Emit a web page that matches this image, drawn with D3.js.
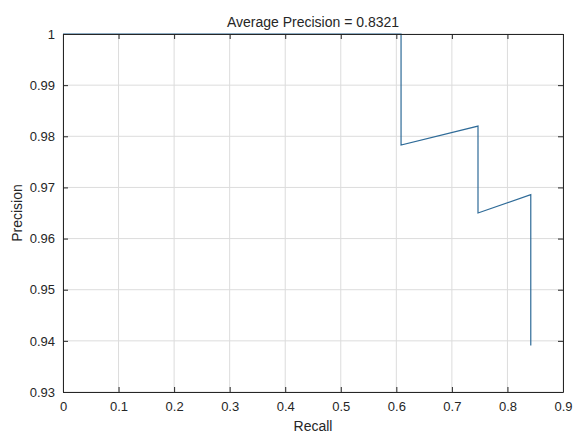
<html>
<head>
<meta charset="utf-8">
<title>Average Precision</title>
<script src="https://d3js.org/d3.v7.min.js"></script>
<style>
body { margin:0; background:#fff; }
text { font-family: "Liberation Sans", Arial, sans-serif; fill:#262626; }
</style>
</head>
<body>
<div id="chart"></div>
<script>
// values
var recall    = [0, 0.6085, 0.6085, 0.747, 0.747, 0.842, 0.842];
var precision = [1, 1, 0.9783, 0.982, 0.965, 0.9686, 0.9391];
var xTicks = [0, 0.1, 0.2, 0.3, 0.4, 0.5, 0.6, 0.7, 0.8, 0.9];
var yTicks = [0.93, 0.94, 0.95, 0.96, 0.97, 0.98, 0.99, 1];
var title = "Average Precision = 0.8321";

var width = 576, height = 434;
var m = {left:63, right:13, top:34, bottom:42};
var iw = width - m.left - m.right, ih = height - m.top - m.bottom;

var svg = d3.select("#chart").append("svg")
  .attr("width", width).attr("height", height);

var x = d3.scaleLinear().domain([0, 0.9]).range([m.left, m.left + iw]);
var y = d3.scaleLinear().domain([0.93, 1]).range([m.top + ih, m.top]);

// grid
svg.append("g").selectAll("line").data(xTicks).enter().append("line")
  .attr("x1", d => x(d)).attr("x2", d => x(d))
  .attr("y1", m.top).attr("y2", m.top + ih)
  .attr("stroke", "#dcdcdc").attr("stroke-width", 1);
svg.append("g").selectAll("line").data(yTicks).enter().append("line")
  .attr("y1", d => y(d)).attr("y2", d => y(d))
  .attr("x1", m.left).attr("x2", m.left + iw)
  .attr("stroke", "#dcdcdc").attr("stroke-width", 1);

// the curve
var pts = recall.map((r, i) => [r, precision[i]]);
svg.append("path").datum(pts)
  .attr("d", d3.line().x(d => x(d[0])).y(d => y(d[1])))
  .attr("fill", "none").attr("stroke", "#2f6b98").attr("stroke-width", 1.2);

// axes, MATLAB style: inward ticks on all four sides
function fmt(d) { return d3.format("~g")(+d.toFixed(2)); }
var axBottom = svg.append("g").attr("transform", "translate(0," + (m.top + ih) + ")")
  .call(d3.axisBottom(x).tickValues(xTicks).tickSizeInner(-5).tickSizeOuter(0).tickPadding(10).tickFormat(fmt));
var axTop = svg.append("g").attr("transform", "translate(0," + m.top + ")")
  .call(d3.axisTop(x).tickValues(xTicks).tickSizeInner(-5).tickSizeOuter(0).tickFormat(""));
var axLeft = svg.append("g").attr("transform", "translate(" + m.left + ",0)")
  .call(d3.axisLeft(y).tickValues(yTicks).tickSizeInner(-5).tickSizeOuter(0).tickPadding(8).tickFormat(fmt));
var axRight = svg.append("g").attr("transform", "translate(" + (m.left + iw) + ",0)")
  .call(d3.axisRight(y).tickValues(yTicks).tickSizeInner(-5).tickSizeOuter(0).tickFormat(""));

[axBottom, axTop, axLeft, axRight].forEach(function(g) {
  g.selectAll("path.domain").attr("stroke", "#262626").attr("stroke-width", 1);
  g.selectAll(".tick line").attr("stroke", "#262626");
  g.selectAll("text").attr("font-size", 13).attr("fill", "#333")
    .style("font-family", "'Liberation Sans', Arial, sans-serif");
});

// labels
svg.append("text").attr("x", m.left + iw / 2).attr("y", 27)
  .attr("text-anchor", "middle").attr("font-size", 14).text(title);
svg.append("text").attr("x", m.left + iw / 2).attr("y", 431)
  .attr("text-anchor", "middle").attr("font-size", 14).text("Recall");
svg.append("text").attr("transform", "translate(22," + (m.top + ih / 2) + ") rotate(-90)")
  .attr("text-anchor", "middle").attr("font-size", 14).text("Precision");
</script>
</body>
</html>
